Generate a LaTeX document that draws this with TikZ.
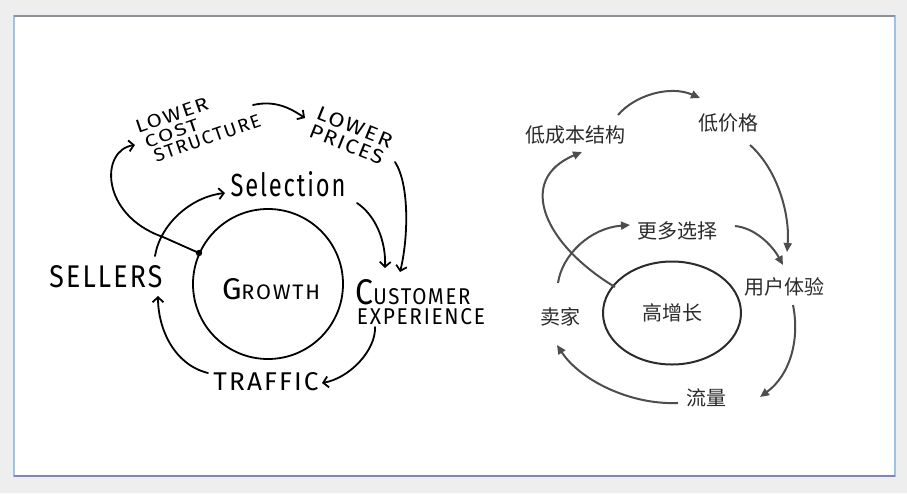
\documentclass[tikz,border=0pt]{standalone}
\usepackage{fontspec}
\usepackage{graphicx}
\usetikzlibrary{arrows.meta,shapes.geometric}
\newfontfamily\hand[LetterSpace=8]{Fira Sans}
\newfontfamily\cjk{Noto Sans CJK SC}
\newcommand\hw[3]{\resizebox{#1pt}{#2pt}{\hand #3}}
\definecolor{arrgray}{HTML}{4D4D4D}
\definecolor{txtgray}{HTML}{2B2B2B}
\definecolor{outerbg}{HTML}{EEEEEE}
\definecolor{edgeblue}{HTML}{9CC2E6}
\definecolor{edgetop}{HTML}{8C9299}
\definecolor{edgebot}{HTML}{7D84C9}
\tikzset{
  lbl/.style={inner sep=0pt, outer sep=0pt},
  harrow/.style={line width=1.8pt, black, line cap=round, -{Straight Barb[length=5pt,width=11pt]}},
  carrow/.style={line width=2pt, draw=arrgray, -{Triangle[length=9pt,width=8pt]}},
  cjklbl/.style={font=\cjk\fontsize{20}{20}\selectfont, text=txtgray, inner sep=0pt}
}
\begin{document}
\begin{tikzpicture}[x=1pt,y=-1pt]
\useasboundingbox (0,0) rectangle (907,493);
\fill[outerbg] (0,0) rectangle (907,493);
\fill[white] (14,16) rectangle (895,476);
\draw[edgeblue, line width=1.5pt] (14,16) rectangle (895,476);
\draw[edgetop, line width=2pt] (14,16) -- (895,16);
\draw[edgebot, line width=2pt] (14,476) -- (895,476);

% ---------------- left: hand-drawn flywheel ----------------
\node[draw=black, line width=1.8pt, circle, minimum size=150pt, inner sep=0pt] (grow) at (268,284) {};
\node[lbl] (growt) at (271,289) {\hw{98}{21}{\fontsize{20}{20}\selectfont G\fontsize{14}{14}\selectfont ROWTH}};
\node[lbl] (sel) at (288,184) {\hw{115}{25}{Selection}};
\node[lbl] (sellers) at (106,277) {\hw{113}{22}{SELLERS}};
\node[lbl] (traffic) at (266,382) {\hw{105}{18}{TRAFFIC}};
\node[lbl] (cust) at (413,292) {\hw{115}{25}{\fontsize{25}{25}\selectfont C\fontsize{16}{16}\selectfont USTOMER}};
\node[lbl] (exper) at (421,317) {\hw{128}{16}{EXPERIENCE}};
\node[lbl, anchor=north west, rotate=19, align=left, font=\fontsize{10}{16.5}\selectfont] (lcost) at (133.8,121.5)
  {\hw{76}{13}{LOWER}\\\hspace*{4pt}\hw{56}{12}{COST}\\\hspace*{8pt}\hw{112}{13}{STRUCTURE}};
\node[lbl, anchor=north west, rotate=-22, align=left, font=\fontsize{10}{19}\selectfont] (lprice) at (320.3,105.5)
  {\hw{80}{14}{LOWER}\\\hw{78}{14}{PRICES}};

\fill (199,253) circle (3.2pt) coordinate (gdot);
\coordinate (s1) at (155,256); \coordinate (e1) at (225,193);
\draw[harrow] (s1) .. controls (160,225) and (190,197) .. (e1);
\coordinate (s2) at (357,203); \coordinate (e2) at (385,268);
\draw[harrow] (s2) .. controls (375,215) and (386,240) .. (e2);
\coordinate (s3) at (395,162); \coordinate (e3) at (400,272);
\draw[harrow] (s3) .. controls (410,185) and (408,240) .. (e3);
\coordinate (s4) at (253,105); \coordinate (e4) at (305,118);
\draw[harrow] (s4) .. controls (275,100) and (290,108) .. (e4);
\coordinate (k5) at (163,237); \coordinate (e5) at (135,145);
\draw[harrow] (gdot) -- (k5) .. controls (100,215) and (100,150) .. (e5);
\coordinate (s6) at (375,327); \coordinate (e6) at (322,383);
\draw[harrow] (s6) .. controls (376,350) and (350,378) .. (e6);
\coordinate (s7) at (208,373); \coordinate (e7) at (158,296);
\draw[harrow] (s7) .. controls (175,365) and (158,330) .. (e7);

% ---------------- right: Chinese version ----------------
\node[draw=txtgray, line width=2pt, ellipse, minimum width=138pt, minimum height=103pt, inner sep=0pt] (gao) at (672,313) {};
\node[cjklbl] (gaot) at (672,313) {高增长};
\node[cjklbl] (cb) at (575,135) {低成本结构};
\node[cjklbl] (dj) at (728,123) {低价格};
\node[cjklbl] (gd) at (677,231) {更多选择};
\node[cjklbl] (yh) at (784,287) {用户体验};
\node[cjklbl] (mj) at (560,317) {卖家};
\node[cjklbl] (ll) at (706,398) {流量};

\coordinate (a1) at (618,115); \coordinate (b1) at (700,98);
\draw[carrow] (a1) .. controls (635,95) and (670,85) .. (b1);
\coordinate (a2) at (750,145); \coordinate (b2) at (787,252);
\draw[carrow] (a2) .. controls (778,170) and (790,215) .. (b2);
\coordinate (a3) at (735,226); \coordinate (b3) at (783,265);
\draw[carrow] (a3) .. controls (755,228) and (772,245) .. (b3);
\coordinate (a4) at (558,283); \coordinate (b4) at (630,225);
\draw[carrow] (a4) .. controls (562,255) and (590,228) .. (b4);
\coordinate (a5) at (615,287); \coordinate (b5) at (582,152);
\draw[carrow] (a5) .. controls (545,245) and (515,180) .. (b5);
\coordinate (a6) at (793,305); \coordinate (b6) at (760,397);
\draw[carrow] (a6) .. controls (800,340) and (790,375) .. (b6);
\coordinate (a7) at (678,403); \coordinate (b7) at (557,345);
\draw[carrow] (a7) .. controls (630,405) and (580,380) .. (b7);
\end{tikzpicture}
\end{document}
